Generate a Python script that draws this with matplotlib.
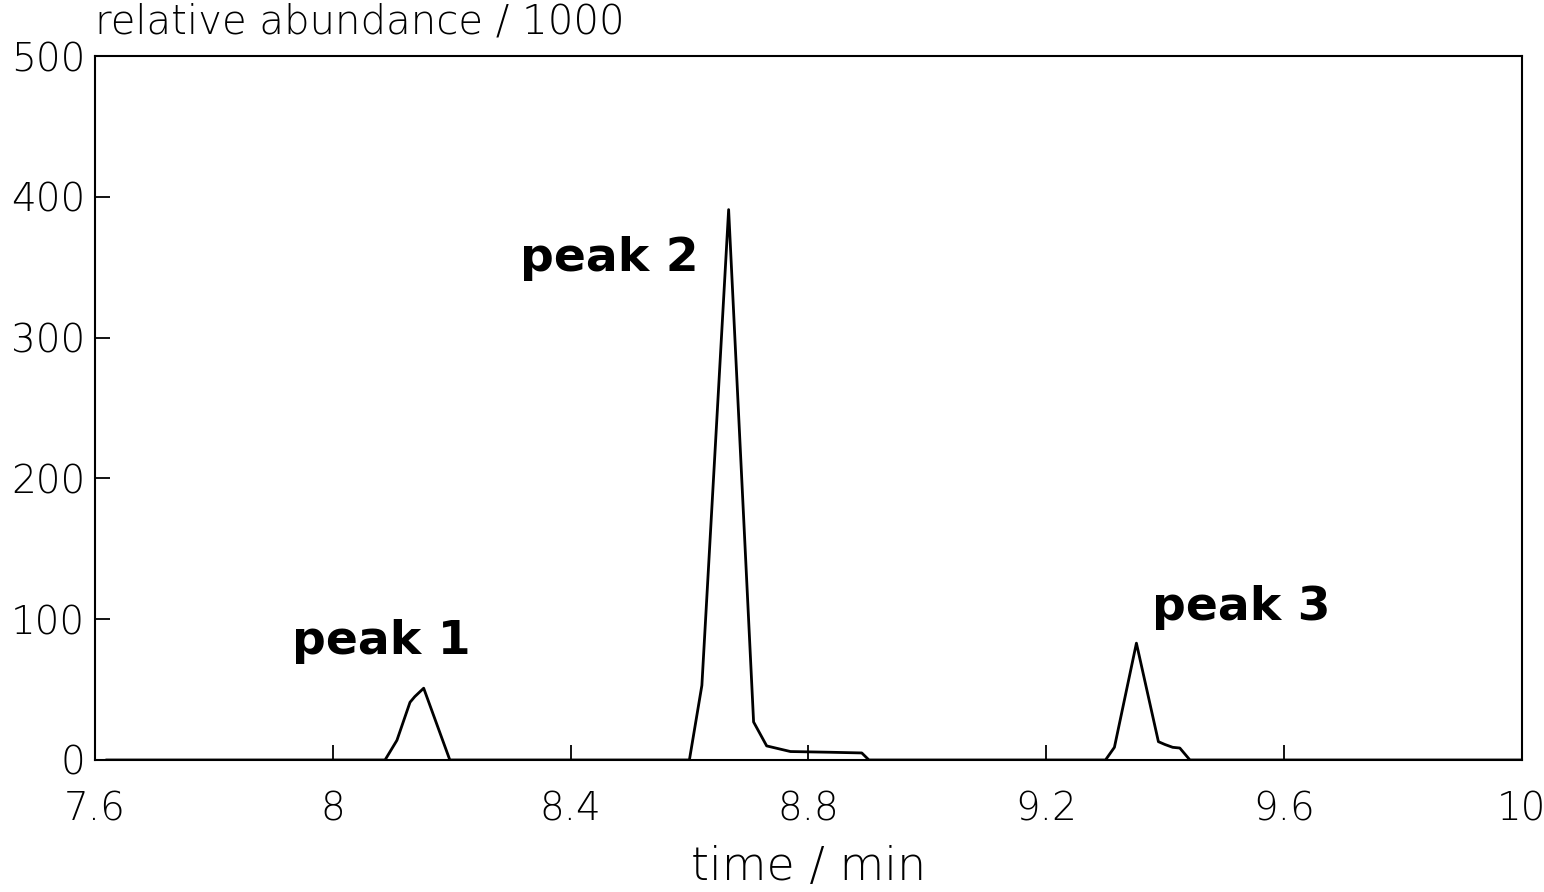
import matplotlib
matplotlib.use("Agg")
import matplotlib.pyplot as plt

tiempo = [7.62, 8.088, 8.108, 8.130, 8.138, 8.153, 8.197,
          8.600, 8.621, 8.666, 8.708, 8.730, 8.770, 8.836, 8.890, 8.902,
          9.300, 9.315, 9.352, 9.389, 9.400, 9.413, 9.425, 9.442, 10.0]
abundancia = [0, 0, 14, 41, 45, 51, 0,
              0, 53, 391, 27, 10, 6, 5.5, 5, 0,
              0, 9, 83, 13, 11, 9, 8.5, 0, 0]

x_ticks = [7.6, 8.0, 8.4, 8.8, 9.2, 9.6, 10.0]
x_labels = ["7.6", "8", "8.4", "8.8", "9.2", "9.6", "10"]
y_ticks = [0, 100, 200, 300, 400, 500]

picos = ["peak 1", "peak 2", "peak 3"]
picos_x = [7.931, 8.315, 9.378]
picos_y = [84, 356, 108]

# ---------------- figura ----------------
plt.rcParams["font.family"] = ["DejaVu Sans"]

fig = plt.figure(figsize=(15.44, 8.92), dpi=100)
ax = fig.add_axes([0.0615, 0.148, 0.924, 0.789])

ax.plot(tiempo, abundancia, color="black", lw=2.0)

ax.set_xlim(7.6, 10.0)
ax.set_ylim(0, 500)
ax.set_xticks(x_ticks)
ax.set_xticklabels(x_labels)
ax.set_yticks(y_ticks)

ax.tick_params(direction="in", length=11, width=1.3, labelsize=28,
               colors="black")
ax.tick_params(axis="x", pad=22)
ax.tick_params(axis="y", pad=7)
for lab in ax.get_xticklabels() + ax.get_yticklabels():
    lab.set_fontweight("light")

for lado in ["left", "bottom", "top", "right"]:
    ax.spines[lado].set_linewidth(1.5)

for t, px, py in zip(picos, picos_x, picos_y):
    ax.text(px, py, t, fontsize=34, fontweight="bold", ha="left", va="center")

ax.set_xlabel("time / min", fontsize=33, labelpad=12, fontweight="light")
fig.text(0.0615, 0.975, "relative abundance / 1000", fontsize=29,
         ha="left", va="center", fontweight="light")

fig.savefig("out.png", dpi=100, facecolor="white")
